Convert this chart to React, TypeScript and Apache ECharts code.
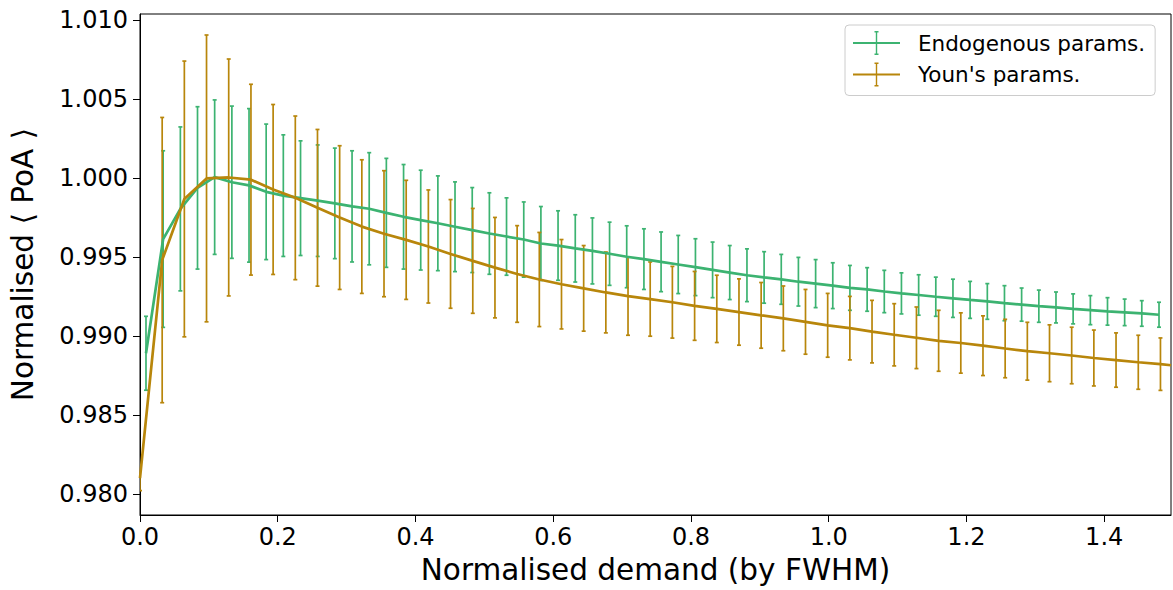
import React, { useEffect, useRef } from "react";
import * as echarts from "echarts";

const endoName = "Endogenous params.";
const younName = "Youn's params.";

const endoX = [
  0.0087, 0.0336, 0.0586, 0.0835, 0.1084, 0.1334, 0.1583, 0.1832, 0.2081, 0.2331,
  0.2580, 0.2829, 0.3079, 0.3328, 0.3577, 0.3827, 0.4076, 0.4325, 0.4574, 0.4824,
  0.5073, 0.5322, 0.5572, 0.5821, 0.6070, 0.6320, 0.6569, 0.6818, 0.7067, 0.7317,
  0.7566, 0.7815, 0.8065, 0.8314, 0.8563, 0.8813, 0.9062, 0.9311, 0.9560, 0.9810,
  1.0059, 1.0308, 1.0558, 1.0807, 1.1056, 1.1306, 1.1555, 1.1804, 1.2053, 1.2303,
  1.2552, 1.2801, 1.3051, 1.3300, 1.3549, 1.3799, 1.4048, 1.4297, 1.4546, 1.4796,
];
const endoY = [
  0.98890, 0.99613, 0.99804, 0.99937, 1.00005, 0.99973, 0.99953, 0.99912, 0.99888, 0.99872,
  0.99856, 0.99839, 0.99820, 0.99805, 0.99779, 0.99754, 0.99733, 0.99713, 0.99691, 0.99670,
  0.99648, 0.99629, 0.99610, 0.99585, 0.99572, 0.99554, 0.99538, 0.99520, 0.99501, 0.99486,
  0.99469, 0.99452, 0.99435, 0.99418, 0.99401, 0.99384, 0.99370, 0.99358, 0.99343, 0.99331,
  0.99318, 0.99304, 0.99294, 0.99281, 0.99269, 0.99259, 0.99248, 0.99238, 0.99228, 0.99218,
  0.99207, 0.99198, 0.99188, 0.99180, 0.99171, 0.99163, 0.99155, 0.99149, 0.99142, 0.99134,
];
const endoErr = [
  0.00234, 0.00559, 0.00519, 0.00514, 0.00489, 0.00482, 0.00486, 0.00429, 0.00385, 0.00363,
  0.00353, 0.00350, 0.00352, 0.00355, 0.00345, 0.00331, 0.00316, 0.00300, 0.00284, 0.00269,
  0.00258, 0.00245, 0.00238, 0.00234, 0.00220, 0.00213, 0.00209, 0.00200, 0.00196, 0.00192,
  0.00189, 0.00184, 0.00180, 0.00176, 0.00171, 0.00167, 0.00163, 0.00158, 0.00154, 0.00152,
  0.00145, 0.00142, 0.00138, 0.00134, 0.00130, 0.00128, 0.00124, 0.00121, 0.00117, 0.00113,
  0.00111, 0.00105, 0.00102, 0.00098, 0.00095, 0.00092, 0.00087, 0.00084, 0.00081, 0.00079,
];

const younX = [
  0, 0.0322, 0.0644, 0.0966, 0.1288, 0.1611, 0.1933, 0.2255, 0.2577, 0.2899,
  0.3221, 0.3543, 0.3865, 0.4187, 0.4509, 0.4832, 0.5154, 0.5476, 0.5798, 0.6120,
  0.6442, 0.6764, 0.7086, 0.7408, 0.7730, 0.8053, 0.8375, 0.8697, 0.9019, 0.9341,
  0.9663, 0.9985, 1.0307, 1.0629, 1.0951, 1.1274, 1.1596, 1.1918, 1.2240, 1.2562,
  1.2884, 1.3206, 1.3528, 1.3850, 1.4172, 1.4495, 1.4817, 1.4970,
];
const younY = [
  0.98099, 0.99480, 0.99867, 0.99997, 1.00003, 0.99989, 0.99927, 0.99874, 0.99811, 0.99749,
  0.99692, 0.99647, 0.99608, 0.99566, 0.99519, 0.99475, 0.99432, 0.99392, 0.99357, 0.99327,
  0.99301, 0.99275, 0.99252, 0.99233, 0.99213, 0.99190, 0.99171, 0.99151, 0.99130, 0.99111,
  0.99089, 0.99067, 0.99049, 0.99027, 0.99007, 0.98988, 0.98969, 0.98955, 0.98938, 0.98920,
  0.98903, 0.98890, 0.98876, 0.98860, 0.98847, 0.98833, 0.98821, 0.98814,
];
const younErr: (number | null)[] = [
  0.00079, 0.00903, 0.00873, 0.00908, 0.00750, 0.00604, 0.00538, 0.00518, 0.00496, 0.00455,
  0.00423, 0.00399, 0.00377, 0.00358, 0.00344, 0.00332, 0.00318, 0.00306, 0.00298, 0.00283,
  0.00271, 0.00256, 0.00248, 0.00235, 0.00227, 0.00218, 0.00213, 0.00210, 0.00208, 0.00205,
  0.00205, 0.00202, 0.00201, 0.00198, 0.00197, 0.00195, 0.00193, 0.00191, 0.00189, 0.00185,
  0.00183, 0.00180, 0.00179, 0.00177, 0.00172, 0.00171, 0.00166, null,
];

const xTicks = [0, 0.2, 0.4, 0.6, 0.8, 1.0, 1.2, 1.4];
const yTicks = [0.98, 0.985, 0.99, 0.995, 1.0, 1.005, 1.01];

const GREEN = "#3CB371";
const GOLD = "#B8860B";
const FONT = "DejaVu Sans";

const legendIcon =
  "path://M0,10.9L47,10.9L47,13.1L0,13.1Z M22.8,0L24.2,0L24.2,24L22.8,24Z M21.5,0L25.5,0L25.5,1.4L21.5,1.4Z M21.5,22.6L25.5,22.6L25.5,24L21.5,24Z";

function errData(xs: number[], ys: number[], es: (number | null)[]) {
  const out: number[][] = [];
  xs.forEach((x, i) => {
    const e = es[i];
    if (e != null) out.push([x, ys[i] - e, ys[i] + e]);
  });
  return out;
}

function makeErrRender(color: string) {
  return (params: any, api: any) => {
    const x = api.value(0);
    const lo = api.coord([x, api.value(1)]);
    const hi = api.coord([x, api.value(2)]);
    const w = 2;
    const st = { stroke: color, lineWidth: 1.7 };
    return {
      type: "group",
      children: [
        { type: "line", shape: { x1: lo[0], y1: lo[1], x2: hi[0], y2: hi[1] }, style: st },
        { type: "line", shape: { x1: lo[0] - w, y1: lo[1], x2: lo[0] + w, y2: lo[1] }, style: st },
        { type: "line", shape: { x1: hi[0] - w, y1: hi[1], x2: hi[0] + w, y2: hi[1] }, style: st },
      ],
    };
  };
}

export default function App() {
  const ref = useRef<HTMLDivElement>(null);
  useEffect(() => {
    if (!ref.current) return;
    const chart = echarts.init(ref.current, null, { renderer: "svg" });
    chart.setOption({
      animation: false,
      backgroundColor: "#ffffff",
      grid: {
        left: 137,
        right: 2,
        top: 14,
        bottom: 73,
        show: true,
        borderColor: "#000",
        borderWidth: 1,
        backgroundColor: "transparent",
      },
      legend: {
        orient: "vertical",
        left: 845,
        top: 25,
        itemWidth: 47,
        itemHeight: 24,
        itemGap: 7.5,
        padding: [6, 10, 9, 8],
        backgroundColor: "rgba(255,255,255,0.8)",
        borderColor: "#cccccc",
        borderWidth: 1,
        borderRadius: 4,
        textStyle: { fontFamily: FONT, fontSize: 21.5, color: "#000", padding: [0, 0, 0, 13] },
        data: [
          { name: endoName, icon: legendIcon },
          { name: younName, icon: legendIcon },
        ],
      },
      xAxis: {
        type: "value",
        min: 0,
        max: 1.497,
        name: "Normalised demand (by FWHM)",
        nameLocation: "middle",
        nameGap: 40,
        nameTextStyle: { fontFamily: FONT, fontSize: 29.5, color: "#000" },
        axisLine: { show: true, onZero: false, lineStyle: { color: "#000", width: 1 } },
        axisTick: { show: true, length: 7, customValues: xTicks, lineStyle: { color: "#000", width: 1 } },
        axisLabel: {
          customValues: xTicks,
          formatter: (v: number) => v.toFixed(1),
          fontFamily: FONT,
          fontSize: 24,
          color: "#000",
          margin: 10,
        },
        splitLine: { show: false },
      },
      yAxis: {
        type: "value",
        min: 0.97866,
        max: 1.01038,
        name: "Normalised ⟨ PoA ⟩",
        nameLocation: "middle",
        nameGap: 102,
        nameTextStyle: { fontFamily: FONT, fontSize: 29.5, color: "#000" },
        axisLine: { show: true, onZero: false, lineStyle: { color: "#000", width: 1 } },
        axisTick: { show: true, length: 7, customValues: yTicks, lineStyle: { color: "#000", width: 1 } },
        axisLabel: {
          customValues: yTicks,
          formatter: (v: number) => v.toFixed(3),
          fontFamily: FONT,
          fontSize: 24,
          color: "#000",
          margin: 12,
        },
        splitLine: { show: false },
      },
      series: [
        {
          type: "custom",
          name: endoName + " error",
          renderItem: makeErrRender(GREEN),
          data: errData(endoX, endoY, endoErr),
          encode: { x: 0, y: [1, 2] },
          clip: true,
          silent: true,
        },
        {
          type: "line",
          name: endoName,
          color: GREEN,
          data: endoX.map((x, i) => [x, endoY[i]]),
          showSymbol: false,
          lineStyle: { width: 2.7, color: GREEN },
          clip: true,
        },
        {
          type: "custom",
          name: younName + " error",
          renderItem: makeErrRender(GOLD),
          data: errData(younX, younY, younErr),
          encode: { x: 0, y: [1, 2] },
          clip: true,
          silent: true,
        },
        {
          type: "line",
          name: younName,
          color: GOLD,
          data: younX.map((x, i) => [x, younY[i]]),
          showSymbol: false,
          lineStyle: { width: 2.7, color: GOLD },
          clip: true,
        },
      ],
    });
    return () => chart.dispose();
  }, []);
  return (
    <div
      ref={ref}
      style={{ position: "absolute", left: 0, top: 0, width: 1173, height: 590 }}
    />
  );
}
